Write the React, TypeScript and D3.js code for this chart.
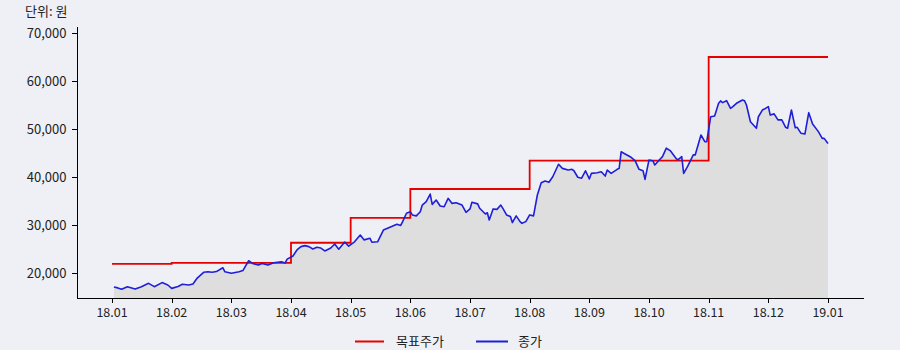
import React from "react";
import * as d3 from "d3";

const monthLabels = ["18.01","18.02","18.03","18.04","18.05","18.06","18.07","18.08","18.09","18.10","18.11","18.12","19.01"];
const yTicks = [20000, 30000, 40000, 50000, 60000, 70000];

const targetDates = ["2018-01-01","2018-02-01","2018-04-01","2018-05-01","2018-06-01","2018-08-01","2018-11-01","2019-01-01"];
const targetPrices = [21900, 22100, 26300, 31500, 37500, 43400, 65000, 65000];

const closeDates = [
  "2018-01-02","2018-01-04","2018-01-06","2018-01-09","2018-01-13","2018-01-16","2018-01-20","2018-01-23","2018-01-27","2018-01-30",
  "2018-02-01","2018-02-04","2018-02-06","2018-02-09","2018-02-11","2018-02-13","2018-02-16","2018-02-18","2018-02-20","2018-02-22","2018-02-25","2018-02-26",
  "2018-03-01","2018-03-05","2018-03-07","2018-03-10","2018-03-12","2018-03-15","2018-03-17","2018-03-20","2018-03-23","2018-03-25","2018-03-27","2018-03-29","2018-03-30",
  "2018-04-02","2018-04-04","2018-04-06","2018-04-08","2018-04-10","2018-04-12","2018-04-14","2018-04-16","2018-04-18","2018-04-21","2018-04-23","2018-04-25","2018-04-28","2018-04-30",
  "2018-05-03","2018-05-06","2018-05-08","2018-05-11","2018-05-12","2018-05-15","2018-05-18","2018-05-22","2018-05-25","2018-05-27","2018-05-28","2018-05-30",
  "2018-06-01","2018-06-02","2018-06-04","2018-06-06","2018-06-07","2018-06-09","2018-06-11","2018-06-12","2018-06-14","2018-06-16","2018-06-18","2018-06-20","2018-06-22","2018-06-24","2018-06-27","2018-06-29",
  "2018-07-01","2018-07-02","2018-07-05","2018-07-06","2018-07-09","2018-07-10","2018-07-11","2018-07-13","2018-07-15","2018-07-17","2018-07-18","2018-07-20","2018-07-22","2018-07-23","2018-07-25","2018-07-27","2018-07-28","2018-07-30",
  "2018-08-01","2018-08-03","2018-08-05","2018-08-07","2018-08-09","2018-08-11","2018-08-13","2018-08-16","2018-08-18","2018-08-21","2018-08-23","2018-08-24","2018-08-26","2018-08-28","2018-08-30",
  "2018-09-01","2018-09-02","2018-09-05","2018-09-07","2018-09-09","2018-09-10","2018-09-12","2018-09-15","2018-09-16","2018-09-17","2018-09-19","2018-09-22","2018-09-24","2018-09-26","2018-09-28","2018-09-29",
  "2018-10-01","2018-10-03","2018-10-04","2018-10-06","2018-10-08","2018-10-10","2018-10-12","2018-10-15","2018-10-16","2018-10-18","2018-10-19","2018-10-21","2018-10-24","2018-10-25","2018-10-28","2018-10-30","2018-10-31",
  "2018-11-02","2018-11-04","2018-11-06","2018-11-07","2018-11-08","2018-11-10","2018-11-12","2018-11-13","2018-11-15","2018-11-18","2018-11-19","2018-11-20","2018-11-22","2018-11-25","2018-11-26","2018-11-28","2018-11-29",
  "2018-12-01","2018-12-02","2018-12-04","2018-12-06","2018-12-08","2018-12-10","2018-12-11","2018-12-13","2018-12-15","2018-12-16","2018-12-18","2018-12-20","2018-12-22","2018-12-24","2018-12-27","2018-12-29","2018-12-30",
  "2019-01-01"
];
const closePrices = [
  17100,16900,16600,17150,16650,17100,17850,17150,18000,17500,
  16800,17200,17650,17500,17700,18950,20150,20250,20150,20300,21100,20250,
  19950,20250,20500,22550,22000,21650,22000,21650,22150,22250,22350,22100,22900,
  23550,24800,25500,25700,25500,25000,25350,25200,24600,25200,26050,24950,26450,25600,
  26500,27900,26900,27250,26400,26500,28950,29650,30150,29900,30700,32450,
  32750,32100,31900,32750,34150,34850,36450,34300,35200,33950,33800,35550,34500,34650,34150,32650,
  33350,34750,34400,33500,32300,32550,31050,33350,33250,34150,33500,32100,31750,30500,31900,30700,30350,30700,
  32100,31900,36250,38800,39150,38900,40050,42650,41800,41450,41600,41300,39950,39750,41300,
  39600,40750,40900,41100,40200,41450,40750,41600,41800,45250,44800,44100,43400,41600,41300,39500,
  43550,43400,42500,43400,44250,46000,45500,43900,43550,44250,40750,42150,44600,44600,48750,47350,47350,
  52550,52700,55350,55850,55500,55900,54300,54600,55350,56050,55900,55000,51500,50150,52550,53950,54150,
  54650,52900,53150,51900,51900,50350,50150,53950,50250,50350,49100,48950,53400,51050,49450,48050,48050,
  47000
];

const W = 900, H = 350;
const RED = "#e60000";
const BLUE = "#1f1fd6";

function monthPos(s: string): number {
  const [y, m, d] = s.split("-").map(Number);
  const days = new Date(y, m, 0).getDate();
  return (y - 2018) * 12 + (m - 1) + (d - 1) / days;
}

export default function App() {
  const x = d3.scaleLinear().domain([0, 12]).range([112, 828]);
  const y = d3.scaleLinear().domain([14792, 71250]).range([298, 27]);
  const xAxisExt = [x.invert(77), x.invert(864)];

  const close = closeDates.map((dt, i) => ({ t: monthPos(dt), v: closePrices[i] }));
  const target = targetDates.map((dt, i) => ({ t: monthPos(dt), v: targetPrices[i] }));

  const area = d3.area<{ t: number; v: number }>()
    .x(d => x(d.t)).y0(y.range()[0]).y1(d => y(d.v));
  const line = d3.line<{ t: number; v: number }>()
    .x(d => x(d.t)).y(d => y(d.v));
  const step = d3.line<{ t: number; v: number }>()
    .x(d => x(d.t)).y(d => y(d.v)).curve(d3.curveStepAfter);

  const font = "'Noto Sans CJK KR', 'Noto Sans', sans-serif";
  const fmt = d3.format(",");

  return (
    <svg width={W} height={H} style={{ position: "absolute", left: 0, top: 0, display: "block" }} fontFamily={font}>
      <rect x={0} y={0} width={W} height={H} fill="#eff0f5" />
      <text x={25} y={16} fontSize={13} fill="#222">단위: 원</text>
      <path d={area(close) || ""} fill="#dedede" />
      <path d={step(target) || ""} fill="none" stroke={RED} strokeWidth={1.8} />
      <path d={line(close) || ""} fill="none" stroke={BLUE} strokeWidth={1.6} strokeLinejoin="round" />
      {/* y axis */}
      <line x1={77.5} x2={77.5} y1={27} y2={298} stroke="#000" strokeWidth={1} />
      {yTicks.map(t => (
        <g key={t}>
          <line x1={72} x2={77.5} y1={Math.round(y(t)) + 0.5} y2={Math.round(y(t)) + 0.5} stroke="#000" />
          <text x={66.5} y={y(t) + 4.5} fontSize={13} textAnchor="end" fill="#222">{fmt(t)}</text>
        </g>
      ))}
      {/* x axis */}
      <line x1={x(xAxisExt[0])} x2={x(xAxisExt[1])} y1={298.5} y2={298.5} stroke="#000" />
      {monthLabels.map((lb, i) => (
        <g key={lb}>
          <line x1={Math.round(x(i)) + 0.5} x2={Math.round(x(i)) + 0.5} y1={298} y2={303} stroke="#000" />
          <text x={x(i)} y={317} fontSize={12.5} textAnchor="middle" fill="#222">{lb}</text>
        </g>
      ))}
      {/* legend */}
      <line x1={355} x2={384} y1={341.5} y2={341.5} stroke={RED} strokeWidth={2} />
      <text x={396} y={346} fontSize={13} fill="#222">목표주가</text>
      <line x1={476} x2={508} y1={341.5} y2={341.5} stroke={BLUE} strokeWidth={2} />
      <text x={518} y={346} fontSize={13} fill="#222">종가</text>
    </svg>
  );
}
